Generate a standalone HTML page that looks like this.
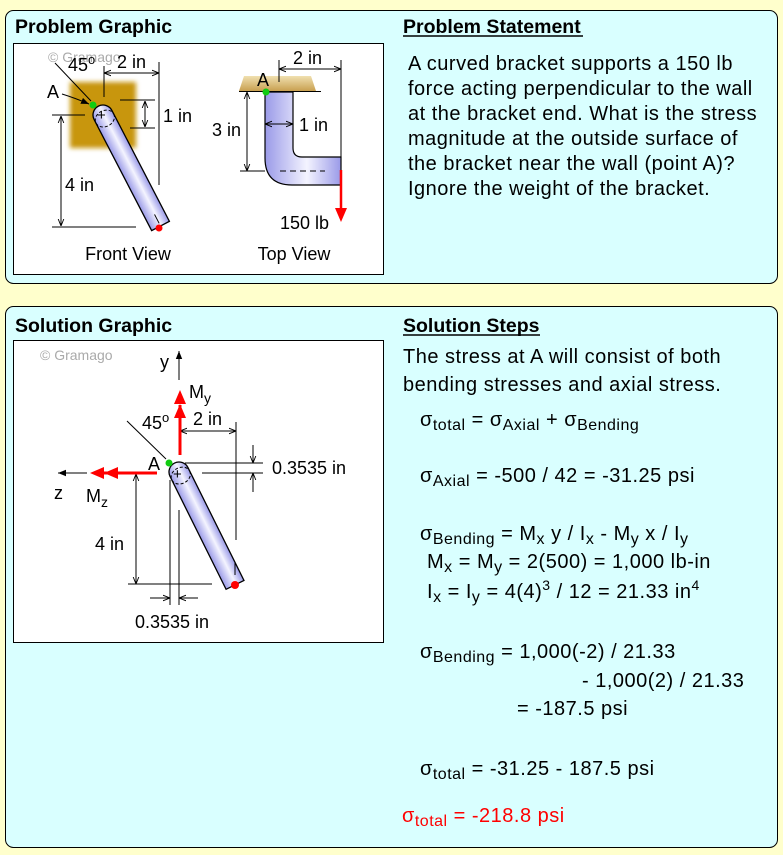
<!DOCTYPE html>
<html><head><meta charset="utf-8"><style>
html,body{margin:0;padding:0;background:#ffffcc;}
body{width:783px;height:855px;position:relative;overflow:hidden;font-family:"Liberation Sans",sans-serif;}
svg{position:absolute;left:0;top:0}
</style></head><body>
<svg width="783" height="855" viewBox="0 0 783 855" font-family="Liberation Sans, sans-serif">
<defs>
<linearGradient id="cyl" x1="0" x2="1" y1="0" y2="0">
<stop offset="0" stop-color="#9a9ae8"/><stop offset="0.55" stop-color="#f4f4ff"/><stop offset="1" stop-color="#9a9ae8"/>
</linearGradient>
<filter id="bl"><feGaussianBlur stdDeviation="2.5"/></filter>
<linearGradient id="wall" x1="0" x2="0" y1="0" y2="1"><stop offset="0" stop-color="#f0e0b0"/><stop offset="1" stop-color="#c8a050"/></linearGradient>
<marker id="ah" viewBox="0 0 10 10" refX="10" refY="5" markerWidth="7" markerHeight="7" orient="auto-start-reverse"><path d="M0,1 L10,5 L0,9" fill="none" stroke="#000" stroke-width="1.3"/></marker>
<marker id="ahb" viewBox="0 0 10 10" refX="10" refY="5" markerWidth="8" markerHeight="8" orient="auto-start-reverse"><path d="M0,1 L10,5 L0,9 z" fill="#000"/></marker>
</defs>
<rect x="5.5" y="10.5" width="772" height="273" rx="8" fill="#d9ffff" stroke="#000"/>
<rect x="5.5" y="306.5" width="772" height="541" rx="8" fill="#d9ffff" stroke="#000"/>
<rect x="13.5" y="43.5" width="370" height="231" fill="#fff" stroke="#000"/>
<rect x="13.5" y="340.5" width="370" height="302" fill="#fff" stroke="#000"/>
<text x="15" y="33" font-size="19.5" font-weight="bold">Problem Graphic</text>
<text x="15" y="332" font-size="19.5" font-weight="bold">Solution Graphic</text>
<text x="403" y="33" font-size="19.5" font-weight="bold">Problem Statement</text>
<line x1="403" y1="36" x2="583" y2="36" stroke="#000" stroke-width="1.5"/>
<text x="403" y="332" font-size="19.5" font-weight="bold">Solution Steps</text>
<line x1="403" y1="335" x2="540" y2="335" stroke="#000" stroke-width="1.5"/>
<g font-size="20" letter-spacing="0.5">
<text x="408" y="70">A curved bracket supports a 150 lb</text>
<text x="408" y="95">force acting perpendicular to the wall</text>
<text x="408" y="120">at the bracket end. What is the stress</text>
<text x="408" y="145">magnitude at the outside surface of</text>
<text x="408" y="170">the bracket near the wall (point A)?</text>
<text x="408" y="195">Ignore the weight of the bracket.</text>
<text x="403" y="363">The stress at A will consist of both</text>
<text x="403" y="391">bending stresses and axial stress.</text>
<text x="420" y="426">σ<tspan font-size="16" dy="4">total</tspan><tspan dy="-4"> = σ</tspan><tspan font-size="16" dy="4">Axial</tspan><tspan dy="-4"> + σ</tspan><tspan font-size="16" dy="4">Bending</tspan></text>
<text x="420" y="482">σ<tspan font-size="16" dy="4">Axial</tspan><tspan dy="-4"> = -500 / 42 = -31.25 psi</tspan></text>
<text x="420" y="540">σ<tspan font-size="16" dy="4">Bending</tspan><tspan dy="-4"> = M</tspan><tspan font-size="16" dy="4">x</tspan><tspan dy="-4"> y / I</tspan><tspan font-size="16" dy="4">x</tspan><tspan dy="-4"> - M</tspan><tspan font-size="16" dy="4">y</tspan><tspan dy="-4"> x / I</tspan><tspan font-size="16" dy="4">y</tspan></text>
<text x="427" y="568">M<tspan font-size="16" dy="4">x</tspan><tspan dy="-4"> = M</tspan><tspan font-size="16" dy="4">y</tspan><tspan dy="-4"> = 2(500) = 1,000 lb-in</tspan></text>
<text x="427" y="598">I<tspan font-size="16" dy="4">x</tspan><tspan dy="-4"> = I</tspan><tspan font-size="16" dy="4">y</tspan><tspan dy="-4"> = 4(4)</tspan><tspan font-size="14" dy="-8">3</tspan><tspan dy="8"> / 12 = 21.33 in</tspan><tspan font-size="14" dy="-8">4</tspan></text>
<text x="420" y="658">σ<tspan font-size="16" dy="4">Bending</tspan><tspan dy="-4"> = 1,000(-2) / 21.33</tspan></text>
<text x="582" y="687">- 1,000(2) / 21.33</text>
<text x="517" y="715">= -187.5 psi</text>
<text x="420" y="775">σ<tspan font-size="16" dy="4">total</tspan><tspan dy="-4"> = -31.25 - 187.5 psi</tspan></text>
<text x="402" y="822" fill="#ff0000">σ<tspan font-size="16" dy="4">total</tspan><tspan dy="-4"> = -218.8 psi</tspan></text>
</g>

<!-- FRONT VIEW -->
<rect x="70" y="82" width="66" height="66" fill="#c8960a" filter="url(#bl)"/>
<g transform="translate(103,115) rotate(-27.4)">
<path d="M-10,0 A10,10 0 0 1 10,0 L10,125 L-10,125 Z" fill="url(#cyl)" stroke="#000" stroke-width="1.3"/>
<ellipse cx="0" cy="4" rx="10" ry="8" fill="none" stroke="#000" stroke-dasharray="3,2"/>
<line x1="0" y1="112" x2="0" y2="122" stroke="#000"/>
</g>
<text x="97" y="120" font-size="15">+</text>
<circle cx="159" cy="228" r="3.5" fill="#f00"/>
<circle cx="93" cy="105" r="3.5" fill="#1c1"/>
<g stroke="#000" stroke-width="1" fill="none">
<line x1="104" y1="66" x2="104" y2="97"/>
<line x1="159" y1="62" x2="159" y2="185"/>
<line x1="104" y1="73" x2="159" y2="73" marker-start="url(#ah)" marker-end="url(#ah)"/>
<line x1="120" y1="100" x2="155" y2="100"/>
<line x1="130" y1="128" x2="155" y2="128"/>
<line x1="145" y1="101" x2="145" y2="127" marker-start="url(#ah)" marker-end="url(#ah)"/>
<line x1="52" y1="115" x2="85" y2="115"/>
<line x1="52" y1="227" x2="136" y2="227"/>
<line x1="61" y1="116" x2="61" y2="226" marker-start="url(#ah)" marker-end="url(#ah)"/>
<line x1="55" y1="63" x2="91" y2="101"/>
<path d="M62,94 Q75,98 89,104" marker-end="url(#ahb)"/>
</g>
<text x="48" y="62" font-size="14" fill="#aaa">© Gramago</text>
<text x="68" y="71" font-size="18">45<tspan font-size="13" dy="-7">o</tspan></text>
<text x="117" y="68" font-size="18">2 in</text>
<text x="163" y="122" font-size="18">1 in</text>
<text x="47" y="98" font-size="18">A</text>
<text x="65" y="191" font-size="18">4 in</text>
<text x="128" y="260" font-size="18" text-anchor="middle">Front View</text>

<!-- TOP VIEW -->
<path d="M244,76 L311,76 L316,91 L239,91 Z" fill="url(#wall)"/>
<line x1="239" y1="91.5" x2="321" y2="91.5" stroke="#000"/>
<path d="M265,92 L293,92 L293,148 Q293,157 302,157 L341,157 L341,185 L292,185 Q265,185 265,158 Z" fill="url(#cyl)" stroke="#000" stroke-width="1.2"/>
<line x1="280" y1="171" x2="325" y2="171" stroke="#000" stroke-dasharray="6,4"/>
<circle cx="266" cy="92" r="3.5" fill="#1c1"/>
<g stroke="#000" fill="none">
<line x1="279" y1="60" x2="279" y2="82"/>
<line x1="341" y1="60" x2="341" y2="157"/>
<line x1="279" y1="69" x2="341" y2="69" marker-start="url(#ah)" marker-end="url(#ah)"/>
<line x1="240" y1="171" x2="265" y2="171"/>
<line x1="247" y1="92" x2="247" y2="171" marker-start="url(#ah)" marker-end="url(#ah)"/>
<line x1="265" y1="124" x2="293" y2="124" marker-start="url(#ah)" marker-end="url(#ah)"/>
</g>
<line x1="341" y1="170" x2="341" y2="210" stroke="#f00" stroke-width="2.5"/>
<path d="M335,208 L347,208 L341,222 Z" fill="#f00"/>
<text x="293" y="64" font-size="18">2 in</text>
<text x="257" y="86" font-size="18">A</text>
<text x="212" y="136" font-size="18">3 in</text>
<text x="299" y="131" font-size="18">1 in</text>
<text x="280" y="229" font-size="18">150 lb</text>
<text x="294" y="260" font-size="18" text-anchor="middle">Top View</text>

<!-- SOLUTION GRAPHIC -->
<text x="40" y="360" font-size="14" fill="#aaa">© Gramago</text>
<g transform="translate(179,472) rotate(-26.4)">
<path d="M-10,0 A10,10 0 0 1 10,0 L10,126 L-10,126 Z" fill="url(#cyl)" stroke="#000" stroke-width="1.3"/>
<ellipse cx="0" cy="4" rx="10" ry="8" fill="none" stroke="#000" stroke-dasharray="3,2"/>
</g>
<text x="173" y="479" font-size="15">+</text>
<circle cx="235" cy="585" r="4" fill="#f00"/>
<circle cx="169" cy="463" r="3.5" fill="#1c1"/>
<line x1="235" y1="563" x2="235" y2="575" stroke="#000"/>
<g stroke="#000" fill="none">
<line x1="179" y1="380" x2="179" y2="351" marker-end="url(#ahb)"/>
<line x1="87" y1="473" x2="58" y2="473" marker-end="url(#ahb)"/>
<line x1="180" y1="431" x2="236" y2="431" marker-start="url(#ah)" marker-end="url(#ah)"/>
<line x1="236" y1="422" x2="236" y2="540"/>
<line x1="185" y1="463" x2="263" y2="463"/>
<line x1="202" y1="473" x2="263" y2="473"/>
<line x1="253" y1="445" x2="253" y2="463" marker-end="url(#ah)"/>
<line x1="253" y1="492" x2="253" y2="473" marker-end="url(#ah)"/>
<line x1="136" y1="474" x2="136" y2="584" marker-start="url(#ah)" marker-end="url(#ah)"/>
<line x1="128" y1="584" x2="212" y2="584"/>
<line x1="170" y1="480" x2="170" y2="605"/>
<line x1="179" y1="510" x2="179" y2="605"/>
<line x1="150" y1="598" x2="170" y2="598" marker-end="url(#ah)"/>
<line x1="198" y1="598" x2="179" y2="598" marker-end="url(#ah)"/>
<line x1="127" y1="421" x2="166" y2="459"/>
</g>
<line x1="180" y1="455" x2="180" y2="405" stroke="#f00" stroke-width="3"/>
<path d="M174,404 L186,404 L180,390 Z M174,418 L186,418 L180,404 Z" fill="#f00"/>
<line x1="157" y1="473" x2="104" y2="473" stroke="#f00" stroke-width="3"/>
<path d="M104,467 L104,479 L90,473 Z M118,467 L118,479 L104,473 Z" fill="#f00"/>
<text x="160" y="368" font-size="18">y</text>
<text x="189" y="398" font-size="18">M<tspan font-size="14" dy="5">y</tspan></text>
<text x="142" y="429" font-size="18">45<tspan font-size="13" dy="-7">o</tspan></text>
<text x="193" y="425" font-size="18">2 in</text>
<text x="148" y="470" font-size="18">A</text>
<text x="272" y="474" font-size="18">0.3535 in</text>
<text x="54" y="499" font-size="18">z</text>
<text x="86" y="502" font-size="18">M<tspan font-size="14" dy="5">z</tspan></text>
<text x="95" y="550" font-size="18">4 in</text>
<text x="135" y="628" font-size="18">0.3535 in</text>
</svg>
</body></html>
